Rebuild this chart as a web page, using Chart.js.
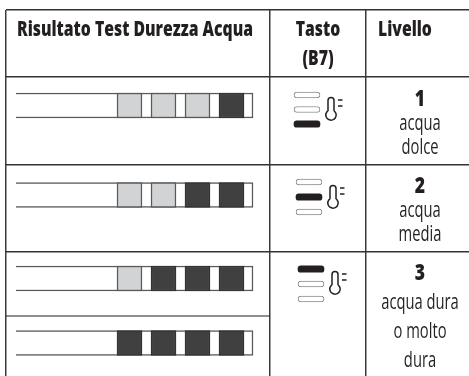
<!DOCTYPE html>
<html><head><meta charset="utf-8">
<style>html,body{margin:0;padding:0;background:#fff}canvas{display:block}</style>
<script src="https://cdn.jsdelivr.net/npm/chart.js@4/dist/chart.umd.min.js"></script>
</head><body><canvas id="c" width="469" height="376"></canvas>
<script>
// --- table content
const headers = [
  {lines:['Risultato Test Durezza Acqua'], x:135, align:'center'},
  {lines:['Tasto','(B7)'], x:318, align:'center'},
  {lines:['Livello'], x:378, align:'left'}
];
const levelNumbers = ['1','2','3'];
const levelLines = [['acqua','dolce'],['acqua','media'],['acqua dura','o molto','dura']];
// one strip per row: 0 = light pad, 1 = dark pad
const stripPads = [[0,0,0,1],[0,0,1,1],[0,1,1,1],[1,1,1,1]];
const stripRows = [105.5,195,278.5,343];
const stripBody = [16,253];
const padEdges = [[117,142],[151,176],[185,210],[219,244]];
// one button per level: which capsule (0 top .. 2 bottom) is lit
const buttonLit = [2,1,0];
const buttonSpans = [[294,320],[296,322],[298,324]];
const buttonRows = [[95,109.5,124],[182,197,212],[269,284,299]];
const thermoAt = [[331,98],[333,186],[335,272]];
const gridX = [6,270,366];
const gridY = [10,77,165,252];
const stripSplit = {y:316, from:6, to:270};
// --- marks
const lightPads=[], darkPads=[];
stripPads.forEach((row,r)=>row.forEach((s,i)=>(s?darkPads:lightPads).push({x:padEdges[i],y:stripRows[r]})));
const litCaps=[], offCaps=[];
buttonLit.forEach((lit,l)=>buttonRows[l].forEach((y,i)=>(i===lit?litCaps:offCaps).push({x:buttonSpans[l],y})));

const DARK='#231f20', EDGE='#58595b';
function txt(ctx,s,x,y,font,align,sx){
  ctx.save();ctx.font=font;ctx.fillStyle=DARK;ctx.textBaseline='middle';ctx.textAlign=align;
  ctx.translate(x,y);ctx.scale(sx,1);ctx.fillText(s,0,0);ctx.restore();
}
const overlay={id:'overlay',afterDraw(chart){
  const {ctx,scales:{x,y}}=chart;
  ctx.save();
  ctx.strokeStyle=DARK;ctx.lineWidth=1.2;
  ctx.beginPath();ctx.moveTo(x.getPixelForValue(stripSplit.from),y.getPixelForValue(stripSplit.y));
  ctx.lineTo(x.getPixelForValue(stripSplit.to),y.getPixelForValue(stripSplit.y));ctx.stroke();
  // thermometer icons
  thermoAt.forEach(([tx,ty])=>{
    const cx=x.getPixelForValue(tx), top=y.getPixelForValue(ty);
    ctx.strokeStyle=DARK;ctx.lineWidth=1.5;ctx.beginPath();
    ctx.moveTo(cx-3,top+13);ctx.lineTo(cx-3,top+2.5);
    ctx.arc(cx,top+2.5,3,Math.PI,0);
    ctx.lineTo(cx+3,top+13);
    ctx.arc(cx,top+17,5.2,-Math.PI/2+0.62,-Math.PI/2-0.62+2*Math.PI);
    ctx.closePath();ctx.stroke();
    ctx.lineWidth=1.6;ctx.beginPath();
    ctx.moveTo(cx+7,top+2);ctx.lineTo(cx+11.5,top+2);
    ctx.moveTo(cx+7,top+8);ctx.lineTo(cx+11.5,top+8);ctx.stroke();
  });
  ctx.restore();
  const BOLD='800 22px "Open Sans"', REG='500 22px "Open Sans"', HEAD='800 21px "Open Sans"';
  headers.forEach((h,i)=>h.lines.forEach((s,k)=>txt(ctx,s,x.getPixelForValue(h.x),y.getPixelForValue(30+k*29),HEAD,h.align,0.75)));
  const numY=[100,187,274];
  const firstY=[124,211,303], step=[24,24,29];
  levelNumbers.forEach((n,l)=>{
    txt(ctx,n,x.getPixelForValue(420),y.getPixelForValue(numY[l]),BOLD,'center',0.8);
    levelLines[l].forEach((s,k)=>txt(ctx,s,x.getPixelForValue(420),y.getPixelForValue(firstY[l]+k*step[l]),REG,'center',0.67));
  });
}};
new Chart(document.getElementById('c'),{
  type:'bar',
  data:{datasets:[
    {label:'strip',data:stripRows.map(y=>({x:stripBody,y})),backgroundColor:'#fff',borderColor:EDGE,borderWidth:1.5,borderSkipped:'left',barThickness:25,order:3},
    {label:'chiaro',data:lightPads,backgroundColor:'#d1d3d4',borderColor:EDGE,borderWidth:1.5,borderSkipped:false,barThickness:25,order:2},
    {label:'scuro',data:darkPads,backgroundColor:'#404040',borderColor:'#333',borderWidth:1.5,borderSkipped:false,barThickness:25,order:2},
    {label:'tasto spento',data:offCaps,backgroundColor:'#fff',borderColor:'#8a8c8e',borderWidth:1,borderSkipped:false,barThickness:6,borderRadius:3,order:1},
    {label:'tasto acceso',data:litCaps,backgroundColor:DARK,borderColor:DARK,borderWidth:0,borderSkipped:false,barThickness:6.5,borderRadius:3.2,order:1}
  ]},
  options:{
    indexAxis:'y',responsive:false,animation:false,
    layout:{padding:{left:6,top:10,right:0,bottom:0}},
    datasets:{bar:{grouped:false}},
    plugins:{legend:{display:false},tooltip:{enabled:false}},
    scales:{
      x:{type:'linear',min:6,max:469,afterBuildTicks:s=>{s.ticks=gridX.map(value=>({value}))},
        ticks:{display:false},border:{display:false},grid:{color:'#3c3c3c',lineWidth:1.5,drawTicks:false}},
      y:{type:'linear',reverse:true,min:10,max:376,offset:false,afterBuildTicks:s=>{s.ticks=gridY.map(value=>({value}))},
        ticks:{display:false},border:{display:false},grid:{color:'#333',lineWidth:1.5,drawTicks:false,offset:false}}
    }
  },
  plugins:[overlay]
});
</script></body></html>
